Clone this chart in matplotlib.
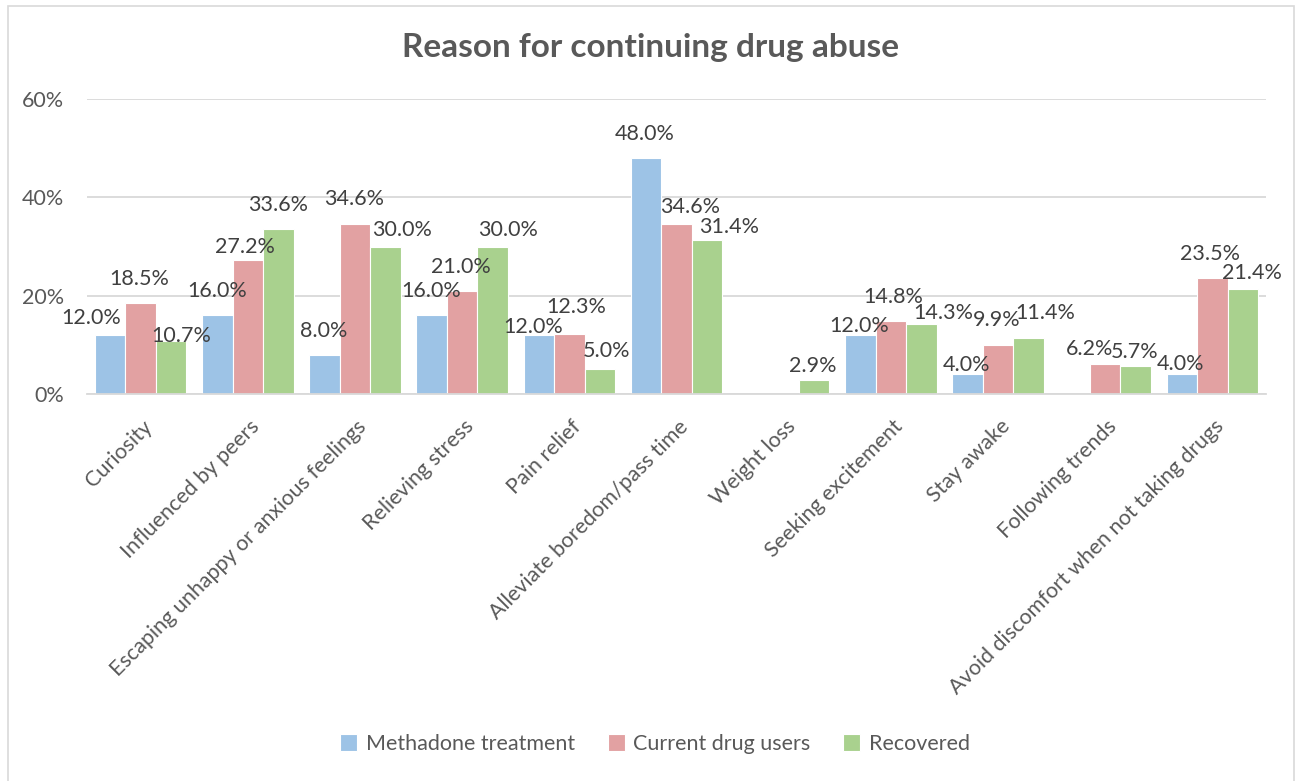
import numpy as np
import matplotlib.pyplot as plt
from matplotlib.patches import Rectangle
from matplotlib.ticker import PercentFormatter
import matplotlib.transforms as mtransforms

plt.rcParams['font.family'] = ['Lato', 'DejaVu Sans']

categories = [
    "Curiosity",
    "Influenced by peers",
    "Escaping unhappy or anxious feelings",
    "Relieving stress",
    "Pain relief",
    "Alleviate boredom/pass time",
    "Weight loss",
    "Seeking excitement",
    "Stay awake",
    "Following trends",
    "Avoid discomfort when not taking drugs",
]
series_names = ["Methadone treatment", "Current drug users", "Recovered"]
methadone = [12.0, 16.0, 8.0, 16.0, 12.0, 48.0, 0.0, 12.0, 4.0, 0.0, 4.0]
current_users = [18.5, 27.2, 34.6, 21.0, 12.3, 34.6, 0.0, 14.8, 9.9, 6.2, 23.5]
recovered = [10.7, 33.6, 30.0, 30.0, 5.0, 31.4, 2.9, 14.3, 11.4, 5.7, 21.4]

colors = ["#9DC3E6", "#E2A1A2", "#A9D18E"]

# hand-placed data label nudges (pixels right, pixels up from bar top)
label_nudge = [
    [(-19, 17), (0, 24), (-1, 24), (0, 24), (-6, 8), (-1, 24),
     (0, 0), (-1, 9), (-1, 9), (0, 0), (-1, 10)],
    [(-1, 24), (-3, 13), (-1, 25), (-1, 24), (7, 27), (14, 17),
     (0, 0), (2, 24), (-1, 25), (-16, 15), (-2, 24)],
    [(10, 5), (0, 24), (17, 17), (15, 17), (7, 18), (22, 13),
     (-1, 14), (22, 11), (17, 25), (-1, 14), (9, 16)],
]

W, H = 1295, 781
fig = plt.figure(figsize=(W / 100, H / 100), dpi=100)
ax = fig.add_axes([87 / W, 1 - 394 / H, (1266 - 87) / W, (394 - 99) / H])

x = np.arange(len(categories))
width = 0.2845
all_series = [methadone, current_users, recovered]
for k, (vals, name, col) in enumerate(zip(all_series, series_names, colors)):
    xs = x + (k - 1) * width
    ax.bar(xs, vals, width, color=col, edgecolor="white", linewidth=0.8,
           label=name, zorder=2)
    for xi, v, (dx, dy) in zip(xs, vals, label_nudge[k]):
        if v == 0:
            continue
        ax.annotate(f"{v:.1f}%", (xi, v), xytext=(dx, dy),
                    textcoords="offset pixels", ha="center", va="center",
                    fontsize=15.5, color="#404040", zorder=3)

ax.set_xlim(-0.5, len(categories) - 0.5)
ax.set_ylim(0, 60)
ax.set_yticks([0, 20, 40, 60])
ax.yaxis.set_major_formatter(PercentFormatter(decimals=0))
ax.grid(axis="y", color="#D9D9D9", linewidth=1.3, zorder=0)
for side in ["top", "right", "left"]:
    ax.spines[side].set_visible(False)
ax.spines["bottom"].set_color("#D9D9D9")
ax.spines["bottom"].set_linewidth(1.3)
ax.tick_params(axis="both", length=0, labelsize=15.5, labelcolor="#595959")
ax.tick_params(axis="y", pad=16.5)

ax.set_xticks(x)
ax.set_xticklabels(categories, rotation=45, ha="right", va="top",
                   rotation_mode="anchor")
ax.tick_params(axis="x", pad=16)
shift = mtransforms.ScaledTranslation(1.5 / 100, 0, fig.dpi_scale_trans)
for lbl in ax.get_xticklabels():
    lbl.set_transform(lbl.get_transform() + shift)

fig.text(651 / W, 1 - 48 / H, "Reason for continuing drug abuse",
         ha="center", va="center", fontsize=24, fontweight="bold",
         color="#595959")

fig.legend(loc="center", bbox_to_anchor=(655 / W, 1 - 744 / H), ncol=3,
           frameon=False, fontsize=15.5, labelcolor="#595959",
           handlelength=0.8, handleheight=0.8, handletextpad=0.4,
           columnspacing=1.5)

# chart area border
fig.patches.append(Rectangle((8 / W, -0.01), (1294 - 8) / W, 1.01 - 6 / H,
                             transform=fig.transFigure, fill=False,
                             edgecolor="#D9D9D9", linewidth=1.2))

fig.savefig("out.png", dpi=100)
